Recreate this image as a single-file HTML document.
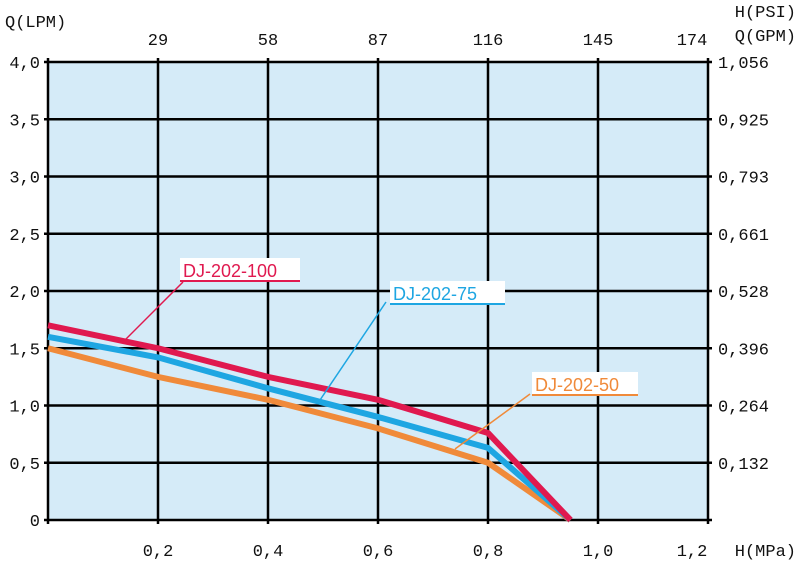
<!DOCTYPE html>
<html><head><meta charset="utf-8"><style>
body{margin:0;background:#fff}
text{font-family:"Liberation Mono",monospace;font-size:17px;fill:#111}
.lbl{font-family:"Liberation Sans",sans-serif;font-size:18px}
</style></head><body>
<svg id="c" width="800" height="566" xmlns="http://www.w3.org/2000/svg">
<rect x="48" y="62" width="660" height="458" fill="#d5ebf8"/>
<g id="grid"></g><g id="series"></g><g id="labels"></g>
</svg>
<script>
const xTicks=[0.2,0.4,0.6,0.8,1.0,1.2];
const xTickLabels=["0,2","0,4","0,6","0,8","1,0","1,2"];
const psiLabels=["29","58","87","116","145","174"];
const yTicks=[0,0.5,1.0,1.5,2.0,2.5,3.0,3.5,4.0];
const yTickLabels=["0","0,5","1,0","1,5","2,0","2,5","3,0","3,5","4,0"];
const gpmLabels=["","0,132","0,264","0,396","0,528","0,661","0,793","0,925","1,056"];
const pressure=[0,0.2,0.4,0.6,0.8,0.95];
const flow100=[1.7,1.5,1.25,1.05,0.76,0];
const flow75=[1.6,1.42,1.15,0.9,0.63,0];
const flow50=[1.5,1.25,1.05,0.8,0.5,0];
const X=v=>48+v*550, Y=v=>520-v*114.5;
const NS="http://www.w3.org/2000/svg";
function mk(tag,parent,attrs){const e=document.createElementNS(NS,tag);for(const k in attrs)e.setAttribute(k,attrs[k]);parent.appendChild(e);return e;}
const g=document.getElementById('grid');
yTicks.forEach((v,i)=>{
 const l=mk('line',g,{x1:44,x2:712,y1:Y(v),y2:Y(v),stroke:'#000','stroke-width':2.5});
 
 
 const t=mk('text',g,{x:40,y:Y(v)+6,'text-anchor':'end'});t.textContent=yTickLabels[i];
 
 
 if(gpmLabels[i]){const r=mk('text',g,{x:718,y:Y(v)+6});r.textContent=gpmLabels[i];
 
 }
});
const v0=mk('line',g,{x1:48,x2:48,y1:58,y2:524,stroke:'#000','stroke-width':2.5});


xTicks.forEach((v,i)=>{
 const l=mk('line',g,{x1:X(v),x2:X(v),y1:58,y2:524,stroke:'#000','stroke-width':2.5});
 
 
 const t=mk('text',g,{x:X(v)-(i==5?16:0),y:556,'text-anchor':'middle'});t.textContent=xTickLabels[i];
 
 
 const p=mk('text',g,{x:X(v)-(i==5?16:0),y:45,'text-anchor':'middle'});p.textContent=psiLabels[i];
 
 
});
[["Q(LPM)",5,27,'start','y-axis-title'],["H(PSI)",796,17,'end','psi-axis-title'],["Q(GPM)",796,41,'end','gpm-axis-title'],["H(MPa)",796,556,'end','x-axis-title']].forEach(a=>{
 const t=mk('text',g,{x:a[1],y:a[2],'text-anchor':a[3]});t.textContent=a[0];
 
 
});
const s=document.getElementById('series');
[[flow50,'#f08a3a','series-dj-202-50'],[flow75,'#1ea6e2','series-dj-202-75'],[flow100,'#e0194f','series-dj-202-100']].forEach(d=>{
 const pts=pressure.map((p,i)=>X(p)+','+Y(d[0][i])).join(' ');
 const pl=mk('polyline',s,{points:pts,fill:'none',stroke:d[1],'stroke-width':6,'stroke-linejoin':'round'});
 
 
});
const L=document.getElementById('labels');
[["DJ-202-100",'#e0194f',180,258,120,[183,282,125,340]],["DJ-202-75",'#1ea6e2',390,281,115,[386,302,318,403]],["DJ-202-50",'#f08a3a',532,372,106,[530,394,455,449]]].forEach(d=>{
 const ln=mk('line',L,{x1:d[5][0],y1:d[5][1],x2:d[5][2],y2:d[5][3],stroke:d[1],'stroke-width':1.5});
 
 
 const r=mk('rect',L,{x:d[2],y:d[3],width:d[4],height:24,fill:'#fff'});
 
 
 const u=mk('line',L,{x1:d[2],x2:d[2]+d[4],y1:d[3]+23,y2:d[3]+23,stroke:d[1],'stroke-width':2});
 
 
 const t=mk('text',L,{x:d[2]+3,y:d[3]+19,class:'lbl',fill:d[1]});t.textContent=d[0];t.style.fill=d[1];
 
 
});
</script>
</body></html>
